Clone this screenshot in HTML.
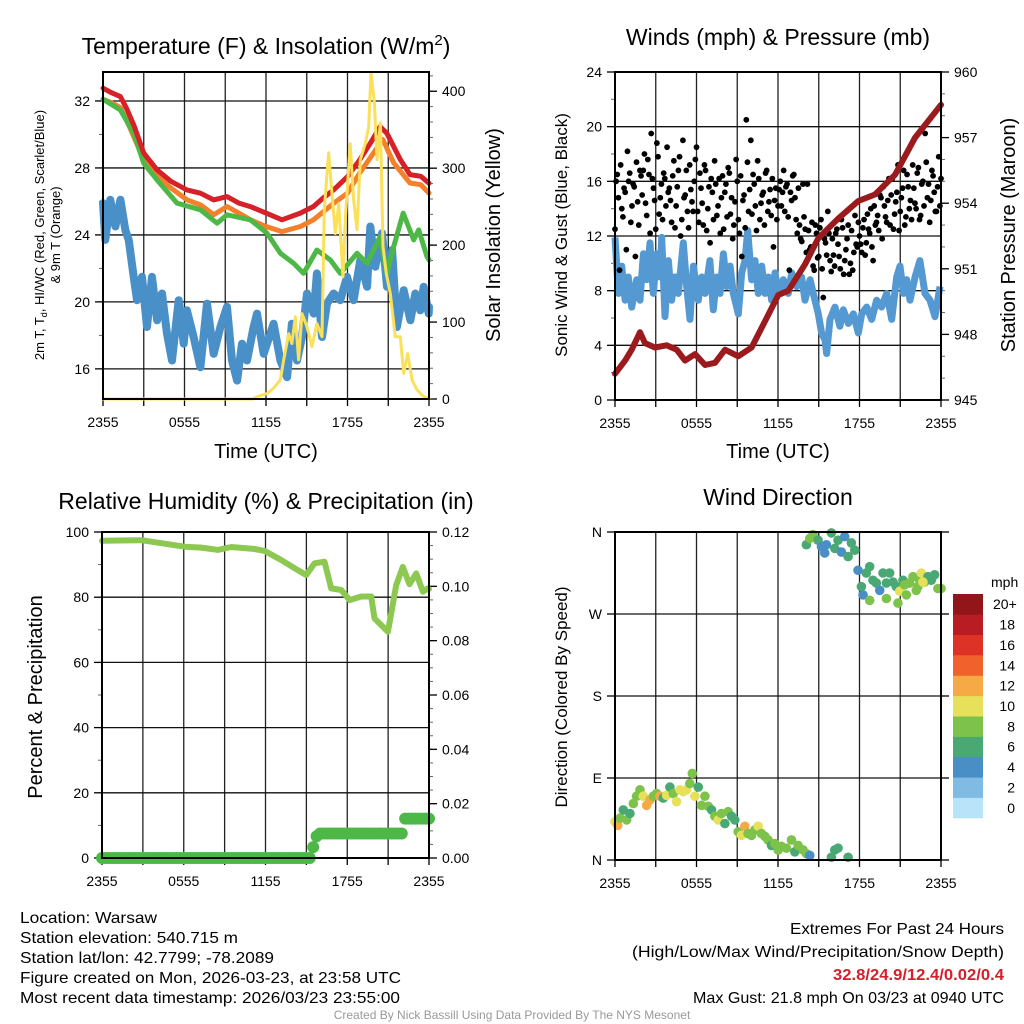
<!DOCTYPE html>
<html><head><meta charset="utf-8"><style>
html,body{margin:0;padding:0;background:#fff;}
svg{display:block;font-family:"Liberation Sans",Arial,sans-serif;}
</style></head><body>
<svg id="fig" width="1024" height="1024" viewBox="0 0 1024 1024" xmlns="http://www.w3.org/2000/svg">
<rect width="1024" height="1024" fill="#fff"/>
<g id="p1"></g>
<g id="p2"></g>
<g id="p3"></g>
<g id="p4"></g>

<text x="266" y="54" font-size="23" text-anchor="middle">Temperature (F) &amp; Insolation (W/m<tspan dy="-9" font-size="15">2</tspan><tspan dy="9">)</tspan></text>
<text x="778" y="45" font-size="23" text-anchor="middle">Winds (mph) &amp; Pressure (mb)</text>
<text x="266" y="509" font-size="23" text-anchor="middle">Relative Humidity (%) &amp; Precipitation (in)</text>
<text x="778" y="505" font-size="23" text-anchor="middle">Wind Direction</text>

<text transform="translate(44,235) rotate(-90)" font-size="13" text-anchor="middle">2m T, T<tspan font-size="9" dy="3">d</tspan><tspan dy="-3">, HI/WC (Red, Green, Scarlet/Blue)</tspan></text>
<text transform="translate(60,235) rotate(-90)" font-size="13" text-anchor="middle">&amp; 9m T (Orange)</text>
<text transform="translate(500,235) rotate(-90)" font-size="20" text-anchor="middle">Solar Insolation (Yellow)</text>
<text transform="translate(567,235) rotate(-90)" font-size="17" text-anchor="middle">Sonic Wind &amp; Gust (Blue, Black)</text>
<text transform="translate(1015,235) rotate(-90)" font-size="20" text-anchor="middle">Station Pressure (Maroon)</text>
<text transform="translate(42,697) rotate(-90)" font-size="20" text-anchor="middle">Percent &amp; Precipitation</text>
<text transform="translate(567,697) rotate(-90)" font-size="17" text-anchor="middle">Direction (Colored By Speed)</text>
<text x="266" y="458" font-size="20" text-anchor="middle">Time (UTC)</text>
<text x="778" y="458" font-size="20" text-anchor="middle">Time (UTC)</text>

<g font-size="16">
<text x="20" y="923" textLength="137" lengthAdjust="spacingAndGlyphs">Location: Warsaw</text>
<text x="20" y="943" textLength="218" lengthAdjust="spacingAndGlyphs">Station elevation: 540.715 m</text>
<text x="20" y="963" textLength="254" lengthAdjust="spacingAndGlyphs">Station lat/lon: 42.7799; -78.2089</text>
<text x="20" y="983" textLength="381" lengthAdjust="spacingAndGlyphs">Figure created on Mon, 2026-03-23, at 23:58 UTC</text>
<text x="20" y="1003" textLength="380" lengthAdjust="spacingAndGlyphs">Most recent data timestamp: 2026/03/23 23:55:00</text>
</g>
<g font-size="16">
<text x="790" y="934" textLength="214" lengthAdjust="spacingAndGlyphs">Extremes For Past 24 Hours</text>
<text x="632" y="957" textLength="372" lengthAdjust="spacingAndGlyphs">(High/Low/Max Wind/Precipitation/Snow Depth)</text>
<text x="833" y="980" textLength="171" lengthAdjust="spacingAndGlyphs" fill="#d3202a" font-weight="bold">32.8/24.9/12.4/0.02/0.4</text>
<text x="693" y="1003" textLength="311" lengthAdjust="spacingAndGlyphs">Max Gust: 21.8 mph On 03/23 at 0940 UTC</text>
</g>
<text x="512" y="1019" font-size="12" fill="#999" text-anchor="middle">Created By Nick Bassill Using Data Provided By The NYS Mesonet</text>
</svg>
<script>
// ---------- DATA ----------
const xTickLabels = ["2355","0555","1155","1755","2355"];
const tempTicks = [16,20,24,28,32];
const solarTicks = [0,100,200,300,400];
const windTicks = [0,4,8,12,16,20,24];
const presTicks = [945,948,951,954,957,960];
const rhTicks = [0,20,40,60,80,100];
const precipTicks = ["0.00","0.02","0.04","0.06","0.08","0.10","0.12"];
const dirTickLabels = ["N","E","S","W","N"];
const cbarLabels = ["0","2","4","6","8","10","12","14","16","18","20+"];
const cbarColors = ["#b8e3f8","#80bbe4","#4a8ec6","#4aa874","#7dc24b","#e6e05a","#f6aa45","#f0612b","#dd3327","#b91c22","#921519"];

const redT = [0,0.6,1.28,1.77,2.3,3.0,3.98,5,6.18,7.17,8.15,9.13,10,10.85,12,13.18,14.53,15.5,16.2,17.0,18.0,18.9,19.7,20.4,20.9,21.9,22.6,23.4,24];
const redV = [32.76,32.5,32.26,31.5,30.5,28.88,27.88,27.2,26.69,26.49,26.09,26.29,25.9,25.69,25.3,24.9,25.3,25.7,26.2,26.7,27.48,28.48,29.5,30.47,30.07,28.48,27.6,27.5,27.09];
const orangeT = [0,0.6,1.28,1.77,2.3,3.0,3.98,5,6.18,7.17,8.15,9.13,10,10.85,12,13.18,14.53,15.5,17,18,18.9,20.6,21.4,22.6,23.4,24];
const orangeV = [32.1,31.9,31.6,30.8,29.8,28.5,27.5,26.8,26.1,25.8,25.2,25.7,25.3,24.9,24.5,24.2,24.5,24.9,25.9,26.5,27.7,29.7,28.3,27.1,27.0,26.5];
const greenT = [0,1.28,2.26,3.0,3.98,5.45,7.17,8.4,9.13,10.85,12.07,13.06,14.04,14.77,15.75,16.74,17.47,18.7,19.44,20.4,20.9,21.4,22.1,22.87,23.24,23.85,24];
const greenV = [32.1,31.46,30.07,28.28,27.28,25.9,25.5,24.7,25.2,24.9,24.1,22.9,22.3,21.7,23.1,22.5,21.7,22.9,22.3,23.9,21.7,23.3,25.3,23.7,24.3,22.7,22.5];
const dewT = [0,0.17,0.54,0.91,1.28,1.64,1.89,2.26,2.5,2.87,3.24,3.61,3.98,4.34,4.71,5.08,5.57,5.94,6.18,6.67,7.17,7.66,8.15,8.64,9.13,9.5,9.87,10.23,10.6,11.09,11.34,11.83,12.07,12.56,13.06,13.55,13.91,14.28,14.65,15.02,15.51,15.75,16.12,16.49,16.98,17.47,17.96,18.45,18.94,19.44,19.68,20.05,20.54,20.91,21.28,21.64,22.14,22.63,22.99,23.36,23.61,23.98,24];
const dewV = [25.9,23.7,26.1,24.5,26.1,24.3,23.7,21.5,20.1,21.5,18.5,21.5,18.9,20.5,18.1,16.5,20.1,17.5,19.5,17.9,16.1,19.9,16.9,18.5,19.7,16.5,15.3,17.5,16.5,18.5,19.3,16.9,17.5,18.7,16.5,15.5,18.7,16.5,17.9,20.5,19.3,21.7,17.9,19.9,20.5,20.1,21.5,20.1,22.5,20.9,24.5,22.1,24.1,20.9,23.1,18.5,20.7,18.9,20.5,19.5,20.9,19.3,19.7];
const solarT = [0,11.0,11.34,12.07,12.56,13.06,13.3,13.67,13.91,14.16,14.4,14.65,15.02,15.39,15.75,16.12,16.29,16.61,16.86,17.1,17.35,17.67,17.84,18.2,18.45,18.7,18.94,19.31,19.56,19.73,19.98,20.17,20.42,20.61,20.86,21.15,21.52,21.89,22.14,22.43,22.75,23.12,23.61,24];
const solarV = [0,0,3,7,14,25,51,85,72,107,51,111,94,68,98,81,246,320,267,215,254,159,233,332,259,220,311,332,354,424,385,311,359,198,163,137,81,81,33,59,25,12,3,1];

const windT = [0,0.25,0.49,0.74,0.98,1.23,1.6,1.84,2.09,2.33,2.58,2.82,3.07,3.31,3.44,3.68,3.93,4.17,4.42,4.66,5.03,5.28,5.52,5.77,6.13,6.38,6.63,6.99,7.24,7.48,7.73,7.98,8.22,8.47,8.71,9.08,9.33,9.57,9.77,10.06,10.31,10.55,10.8,11.04,11.29,11.53,11.78,12.02,12.39,12.76,13.01,13.37,13.74,13.99,14.36,14.6,14.97,15.21,15.46,15.58,15.83,16.2,16.56,16.81,17.18,17.55,17.91,18.16,18.53,18.9,19.26,19.63,20,20.37,20.74,20.98,21.23,21.47,21.72,22.09,22.45,22.82,23.19,23.56,23.93];
const windV = [11.9,7.8,9.8,7.3,9.0,6.8,8.8,7.3,10.7,8.8,11.5,7.8,10.7,9.0,11.9,6.1,10.2,7.3,9.0,7.8,11.5,8.3,5.9,9.8,7.3,9.0,7.8,10.2,6.6,9.0,7.8,10.7,8.3,9.8,7.8,6.3,9.3,10.2,12.4,8.8,10.2,7.8,9.8,7.8,9.0,7.3,9.3,7.8,8.8,7.8,9.3,8.3,9.0,7.3,8.8,7.8,6.3,4.9,4.4,3.4,5.9,6.8,5.4,6.6,5.6,6.3,4.9,6.3,6.8,5.9,7.3,6.8,7.8,5.9,9.0,9.8,7.8,8.8,7.3,9.0,10.2,7.8,7.3,6.1,8.3];
const gustV = [12.5,16.5,9.5,14,15.5,11,16,13,15.8,10.5,14.5,16.8,
15,18,13.5,16.5,19.5,15.5,12.5,17.8,14.8,13.2,16.2,18.5,
15.5,13,17.5,14.2,16.8,12,19,15,13.8,17.2,14.5,16,
18.5,13,15.5,12.8,16.8,14,11.5,15.2,17.5,13.5,16.2,14.8,
12.5,15.8,17,13.6,11.8,14.5,16,12.2,10.5,15,20.5,13.8,
19,16.5,14.2,17.5,13.2,15,12.8,16.8,14.5,13.5,11.2,15.5,
14.2,16,15.2,13.8,15.8,9.5,14.6,16.5,13.2,15.5,11.8,15.8,
12.5,15.8,11,13,9.5,12.2,10.5,13.2,7.5,11.5,13.8,10.2,
11.8,9.8,12.5,10.5,13.2,9.2,11,12.8,10,9.5,13.5,11.2,
12,10.8,13.2,11.5,12.5,14,10.2,12.8,13.5,15,11.8,14.2,
13,16.2,15,12.5,14.5,17.2,13.8,15.5,12.8,16.5,14,13.2,
15.5,14,17,13.5,16,19.5,14.8,13,16.8,15.2,13.8,17.8,16.2];
const gustV2 = [16,14.8,17.2,13.4,15.2,18.2,16.6,14.2,15.6,17.4,12.8,16.4,
16.8,14.4,17.6,12.2,16.2,14.6,18.8,13.6,15.8,16.6,14.2,15.2,
14.6,16.4,12.6,15.6,17.8,13.2,14.8,16.8,12.6,15.4,13.8,17.6,
13.8,16.6,14.4,17.2,12.4,15.6,16.2,13.2,15.8,14.2,12.2,16.4,
15.2,13.4,16.6,14.8,12.8,17.6,13.2,16.4,14.6,12.6,17.4,15.4,
13.6,15.8,12.4,16.2,14.4,15.2,16.6,13.8,15.4,16.2,14.6,13.2,
15.4,14.2,16.8,15.6,13.4,15.2,16.4,14.8,12.2,12.8,11.6,13.4,
10.8,12.4,11.2,9.8,12.8,10.4,12.6,9.6,11.8,10.6,12.2,9.4,
10.6,12.2,11.4,9.6,12.6,10.2,11.8,9.2,12.4,10.8,11.4,13,
11.4,12.6,10.6,13.6,12.2,11.2,14.2,13,12.4,14.8,15.6,13.4,
14.6,12.8,16.2,13.6,15.2,12.4,14.8,16.8,13.4,15.6,14.6,17.2,
14.4,16.6,13.2,15.8,14.2,17.4,15.8,14.6,16.4,13.8,15.6,14.2];
const presT = [0,0.74,1.23,1.84,2.21,2.94,3.8,4.54,5.15,5.89,6.63,7.36,8.1,9.08,10.06,11.04,12.02,12.76,13.99,14.97,16.44,17.91,19.14,20.61,22.09,24];
const presV = [946.2,946.8,947.3,948.1,947.6,947.4,947.5,947.3,946.8,947.1,946.6,946.7,947.3,947.0,947.4,948.6,949.8,950.0,951.2,952.4,953.3,954.1,954.4,955.3,957.0,958.5];

const rhT = [0,2.89,6.06,7.29,8.51,9.49,11.2,11.93,13.15,14.13,14.99,15.6,16.33,16.82,17.56,18.17,19.02,19.76,20,20.98,21.59,22.08,22.57,23.06,23.55,23.91,24];
const rhV = [97.3,97.5,95.5,95.2,94.5,95.4,94.8,94.2,91.4,88.9,86.8,90.4,90.9,82.7,82.2,79.1,80.2,80.2,73.5,69.4,83.7,89.3,84.0,87.3,81.7,82.7,82.5];
const precipV = [0,0,0,0,0,0,0,0,0,0,0,0,0,0,0,0,0,0,0,0,0,0,0,0,0,0,0,0,0,0,0,0,0,0,0,0,0,0,0,0,0,0,0,0,0,0,0,0,0,0,0,0,0,0,0,0,0,0,0,0,0,0,0.004,0.008,0.009,0.009,0.009,0.009,0.009,0.009,0.009,0.009,0.009,0.009,0.009,0.009,0.009,0.009,0.009,0.009,0.009,0.009,0.009,0.009,0.009,0.009,0.009,0.009,0.009,0.0145,0.0145,0.0145,0.0145,0.0145,0.0145,0.0145,0.0145];

const dirT = [0,0.2,0.37,0.61,0.86,1.1,1.35,1.59,1.84,2.08,2.33,2.57,2.82,3.06,3.31,3.55,3.8,4.04,4.29,4.53,4.78,5.02,5.27,5.51,5.69,5.88,6.13,6.37,6.62,6.86,7.11,7.35,7.6,7.84,8.09,8.33,8.58,8.82,9.07,9.31,9.56,9.8,10.05,10.29,10.54,10.78,11.03,11.27,11.52,11.76,12.01,12.25,12.62,12.99,13.24,13.48,13.85,14.09,14.34,15.93,16.18,16.42,17.16,
14.09,14.34,14.58,14.95,15.2,15.44,15.56,15.93,16.18,16.42,16.67,16.91,17.16,17.4,17.65,17.89,18.14,18.26,18.5,18.75,18.99,19.24,19.49,19.73,19.98,20.22,20.47,20.71,20.96,20.83,21.2,21.45,21.69,21.94,22.18,22.43,22.55,22.79,23.04,23.28,23.53,23.77,24.0,18.75,19.98,21.32,22.3,22.67];
const dirV = [42,38,46,55,44,51,62,70,77,70,60,66,70,73,70,68,71,80,73,64,77,75,77,84,95,70,80,60,70,59,55,48,44,51,40,53,48,44,31,27,37,29,27,33,37,29,26,22,16,18,11,15,13,22,9,16,11,7,5,3,11,13,3,
346,353,357,351,344,337,346,359,342,351,338,355,333,348,340,318,300,291,315,322,307,304,296,315,304,315,305,300,295,282,307,291,304,311,296,307,315,305,311,307,313,298,298,285,287,302,300,305];
const dirSpd = [10,12,8,6,8,6,8,8,8,10,12,12,8,8,12,6,10,6,8,10,10,10,10,8,8,10,6,8,8,8,6,8,10,8,6,8,6,6,8,10,12,8,8,8,10,8,8,8,6,8,8,8,8,8,6,8,8,8,4,6,6,6,6,
6,8,8,6,4,4,4,6,6,6,4,4,6,6,6,4,6,4,6,6,6,6,4,6,6,6,6,6,10,8,6,8,8,8,8,8,10,8,6,6,6,8,8,8,8,8,8,10];

// ---------- HELPERS ----------
const NS = "http://www.w3.org/2000/svg";
function mk(parent, tag, attrs){ const e=document.createElementNS(NS,tag); for(const k in attrs) e.setAttribute(k,attrs[k]); parent.appendChild(e); return e; }
function lin(d0,d1,r0,r1){ return v => r0 + (v-d0)/(d1-d0)*(r1-r0); }
function pathOf(ts, vs, xf, yf){ let d=""; for(let i=0;i<ts.length;i++){ d += (i?"L":"M")+xf(ts[i]).toFixed(1)+","+yf(vs[i]).toFixed(1); } return d; }

function frame(g, P, leftTicks, leftMinorStep, yL){
  const grid = mk(g,"g",{});
  
  
  for(let h=3; h<24; h+=3){ const x=P.xf(h); mk(grid,"line",{x1:x,x2:x,y1:P.top,y2:P.bot,stroke:"#222","stroke-width":1.3}); }
  leftTicks.forEach(v=>{ const y=yL(v); if(y>P.top+1 && y<P.bot-1) mk(grid,"line",{x1:P.x0,x2:P.x1,y1:y,y2:y,stroke:"#111","stroke-width":1.3}); });
  const xa = mk(g,"g",{});
  
  
  for(let h=0; h<=24; h+=3){ const x=P.xf(h); mk(xa,"line",{x1:x,x2:x,y1:P.bot,y2:P.bot+7,stroke:"#000","stroke-width":1.3}); }
  xTickLabels.forEach((s,i)=>{ const t=mk(xa,"text",{x:P.xf(i*6),y:P.bot+28,"font-size":14,"text-anchor":"middle"}); t.textContent=s;
      });
  return xa;
}
function leftAxis(g,P,ticks,labels,yf,minor){
  const a=mk(g,"g",{});
  
  
  minor.forEach(v=>{ const y=yf(v); if(y>=P.top-0.5&&y<=P.bot+0.5) mk(a,"line",{x1:P.x0-4,x2:P.x0,y1:y,y2:y,stroke:"#666","stroke-width":1}); });
  ticks.forEach((v,i)=>{ const y=yf(v); mk(a,"line",{x1:P.x0-8,x2:P.x0,y1:y,y2:y,stroke:"#000","stroke-width":1.3});
    const t=mk(a,"text",{x:P.x0-13,y:y+5,"font-size":14,"text-anchor":"end"}); t.textContent=labels[i];
      });
}
function rightAxis(g,P,ticks,labels,yf,minor){
  const a=mk(g,"g",{});
  
  
  minor.forEach(v=>{ const y=yf(v); if(y>=P.top-0.5&&y<=P.bot+0.5) mk(a,"line",{x1:P.x1,x2:P.x1+4,y1:y,y2:y,stroke:"#666","stroke-width":1}); });
  ticks.forEach((v,i)=>{ const y=yf(v); mk(a,"line",{x1:P.x1,x2:P.x1+8,y1:y,y2:y,stroke:"#000","stroke-width":1.3});
    const t=mk(a,"text",{x:P.x1+13,y:y+5,"font-size":14,"text-anchor":"start"}); t.textContent=labels[i];
      });
}
function border(g,P){ const r=mk(g,"rect",{x:P.x0,y:P.top,width:P.x1-P.x0,height:P.bot-P.top,fill:"none",stroke:"#000","stroke-width":2});
    }
function range(a,b,s){ const o=[]; for(let v=a; v<=b+1e-9; v+=s) o.push(+v.toFixed(4)); return o; }

// ---------- PANEL 1 ----------
(function(){
  const g=document.getElementById("p1");
  const P={x0:103,x1:429,top:72,bot:399}; P.xf=lin(0,24,P.x0,P.x1);
  const yL=lin(14.2,33.73,P.bot,P.top), yR=lin(0,425,P.bot,P.top);
  frame(g,P,tempTicks,2,yL);
  leftAxis(g,P,tempTicks,tempTicks.map(String),yL,range(14,34,2));
  rightAxis(g,P,solarTicks,solarTicks.map(String),yR,range(0,420,20));
  const add=(n,d,c,w)=>{ const p=mk(g,"path",{d:d,fill:"none",stroke:c,"stroke-width":w,"stroke-linejoin":"round","stroke-linecap":"round"});   };
  add('dewpoint-line',pathOf(dewT,dewV,P.xf,yL),"#4a90c8",8);
  add('temperature-9m-line',pathOf(orangeT,orangeV,P.xf,yL),"#f4802b",5);
  add('heat-index-line',pathOf(greenT,greenV,P.xf,yL),"#4db848",5);
  add('temperature-2m-line',pathOf(redT,redV,P.xf,yL),"#d62128",5);
  add('insolation-line',pathOf(solarT,solarV,P.xf,yR),"#fbe05a",3);
  border(g,P);
})();

// ---------- PANEL 2 ----------
(function(){
  const g=document.getElementById("p2");
  const P={x0:615,x1:941,top:72,bot:400}; P.xf=lin(0,24,P.x0,P.x1);
  const yL=lin(0,24,P.bot,P.top), yR=lin(945,960,P.bot,P.top);
  frame(g,P,windTicks,2,yL);
  leftAxis(g,P,windTicks,windTicks.map(String),yL,range(0,24,2));
  rightAxis(g,P,presTicks,presTicks.map(String),yR,range(945,960,1));
  const w=mk(g,"path",{d:pathOf(windT,windV,P.xf,yL),fill:"none",stroke:"#5599d2","stroke-width":7,"stroke-linejoin":"round"});
   
  const dots=mk(g,"g",{});
   
  gustV.forEach((v,i)=>{ const c=mk(dots,"circle",{cx:P.xf(i*24/(gustV.length-1)),cy:yL(v),r:2.9,fill:"#000"});
      });
  gustV2.forEach((v,i)=>{ const c=mk(dots,"circle",{cx:P.xf((i+0.5)*24/gustV2.length),cy:yL(v),r:2.9,fill:"#000"});
      });
  const p=mk(g,"path",{d:pathOf(presT,presV,P.xf,yR),fill:"none",stroke:"#9a1a1d","stroke-width":6,"stroke-linejoin":"round","stroke-linecap":"round"});
   
  border(g,P);
})();

// ---------- PANEL 3 ----------
(function(){
  const g=document.getElementById("p3");
  const P={x0:102,x1:429,top:532,bot:858}; P.xf=lin(0,24,P.x0,P.x1);
  const yL=lin(0,100,P.bot,P.top), yR=lin(0,0.12,P.bot,P.top);
  frame(g,P,rhTicks,10,yL);
  leftAxis(g,P,rhTicks,rhTicks.map(String),yL,range(0,100,10));
  rightAxis(g,P,precipTicks.map(Number),precipTicks,yR,range(0,0.12,0.005));
  const r=mk(g,"path",{d:pathOf(rhT,rhV,P.xf,yL),fill:"none",stroke:"#8dc850","stroke-width":6,"stroke-linejoin":"round","stroke-linecap":"round"});
   
  const dots=mk(g,"g",{});
   
  precipV.forEach((v,i)=>{ const c=mk(dots,"circle",{cx:P.xf(i*24/(precipV.length-1)),cy:yR(v),r:6,fill:"#4db848"});
      });
  border(g,P);
})();

// ---------- PANEL 4 ----------
(function(){
  const g=document.getElementById("p4");
  const P={x0:615,x1:941,top:532,bot:860}; P.xf=lin(0,24,P.x0,P.x1);
  const yL=lin(0,360,P.bot,P.top);
  const dirTicks=[0,90,180,270,360];
  frame(g,P,dirTicks,45,yL);
  leftAxis(g,P,dirTicks,dirTickLabels,yL,[]);
  const a=mk(g,"g",{});
   
  dirTicks.forEach(v=>mk(a,"line",{x1:P.x1,x2:P.x1+8,y1:yL(v),y2:yL(v),stroke:"#000","stroke-width":1.3}));
  const dots=mk(g,"g",{});
   
  dirV.forEach((v,i)=>{ const idx=Math.min(10,Math.round(dirSpd[i]/2));
    const c=mk(dots,"circle",{cx:P.xf(dirT[i]),cy:yL(v),r:4.8,fill:cbarColors[idx]});
      });
  border(g,P);
  const cb=mk(g,"g",{});
   
  const bh=(818-594)/cbarColors.length;
  cbarColors.forEach((c,i)=>{ const y=818-(i+1)*bh;
    const r=mk(cb,"rect",{x:953,y:y,width:30,height:bh+0.3,fill:c});
     
    const t=mk(cb,"text",{x:i==10?993:1015,y:y+bh/2+5,"font-size":14,"text-anchor":i==10?"start":"end"}); t.textContent=cbarLabels[i];
      });
  const u=mk(cb,"text",{x:991,y:587,"font-size":14}); u.textContent="mph";
   
})();
</script>
</body></html>
